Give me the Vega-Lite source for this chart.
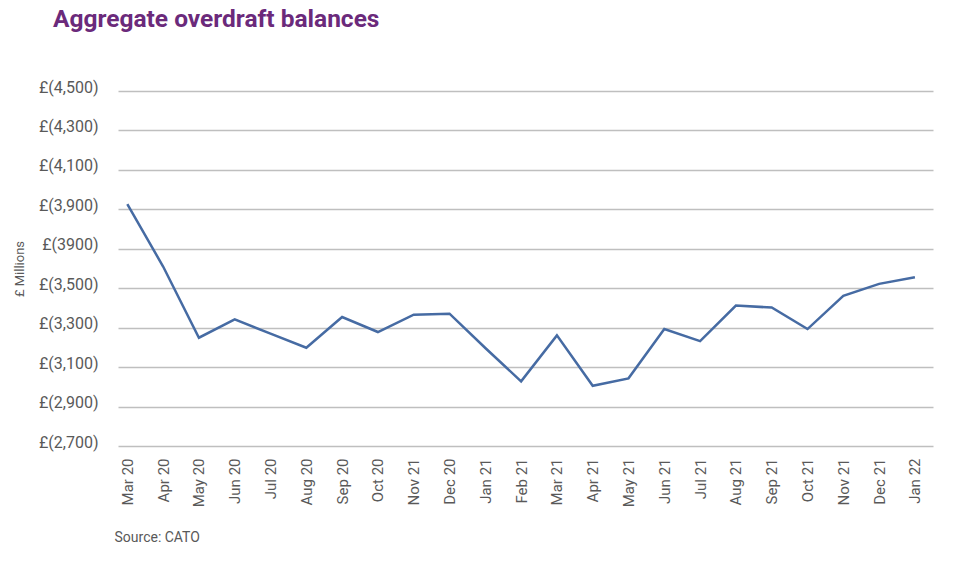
{
  "$schema": "https://vega.github.io/schema/vega-lite/v6.json",
  "autosize": "none",
  "width": 815,
  "height": 355,
  "padding": {"left": 118, "top": 91, "right": 25, "bottom": 132},
  "background": "white",
  "title": {
    "text": "Aggregate overdraft balances",
    "anchor": "start",
    "frame": "group",
    "dx": -65,
    "offset": 47,
    "font": "Roboto",
    "fontSize": 24.5,
    "fontWeight": "bold",
    "color": "#6B2A7B"
  },
  "data": {
    "values": [
      {"month": "Mar 20", "balance": 3926},
      {"month": "Apr 20", "balance": 3610},
      {"month": "May 20", "balance": 3249},
      {"month": "Jun 20", "balance": 3342},
      {"month": "Jul 20", "balance": 3270},
      {"month": "Aug 20", "balance": 3198},
      {"month": "Sep 20", "balance": 3354},
      {"month": "Oct 20", "balance": 3278},
      {"month": "Nov 20", "balance": 3366},
      {"month": "Dec 20", "balance": 3371},
      {"month": "Jan 21", "balance": 3197},
      {"month": "Feb 21", "balance": 3028},
      {"month": "Mar 21", "balance": 3261},
      {"month": "Apr 21", "balance": 3005},
      {"month": "May 21", "balance": 3043},
      {"month": "Jun 21", "balance": 3293},
      {"month": "Jul 21", "balance": 3232},
      {"month": "Aug 21", "balance": 3412},
      {"month": "Sep 21", "balance": 3402},
      {"month": "Oct 21", "balance": 3293},
      {"month": "Nov 21", "balance": 3461},
      {"month": "Dec 21", "balance": 3522},
      {"month": "Jan 22", "balance": 3556}
    ]
  },
  "mark": {"type": "line", "color": "#466BA3", "strokeWidth": 2.5},
  "encoding": {
    "x": {
      "field": "month",
      "type": "ordinal",
      "sort": null,
      "scale": {"type": "point", "padding": 0.383, "align": 0.34},
      "axis": {
        "title": "Source: CATO",
        "titleAnchor": "start",
        "titleAlign": "left",
        "titleX": -4,
        "titleFont": "Roboto",
        "titleFontSize": 14,
        "titleFontWeight": "normal",
        "titleColor": "#595959",
        "titlePadding": 24,
        "labelAngle": -90,
        "labelAlign": "right",
        "labelBaseline": "middle",
        "labelFont": "Roboto",
        "labelFontSize": 15,
        "labelColor": "#595959",
        "labelPadding": 12,
        "labelExpr": "datum.value == 'Nov 20' ? 'Nov 21' : datum.value",
        "domain": false,
        "ticks": false,
        "grid": false
      }
    },
    "y": {
      "field": "balance",
      "type": "quantitative",
      "scale": {"domain": [2700, 4500], "nice": false, "zero": false},
      "axis": {
        "title": "£ Millions",
        "titleFont": "Roboto",
        "titleFontSize": 13,
        "titleFontWeight": "normal",
        "titleColor": "#595959",
        "titlePadding": 12,
        "values": [2700, 2900, 3100, 3300, 3500, 3700, 3900, 4100, 4300, 4500],
        "labelExpr": "datum.value == 3700 ? '£(3900)' : '£(' + format(datum.value, ',') + ')'",
        "labelFont": "Roboto",
        "labelFontSize": 16,
        "labelColor": "#595959",
        "labelPadding": 20,
        "labelOffset": -4,
        "labelFlush": false,
        "domain": false,
        "ticks": false,
        "grid": true,
        "gridColor": "#BFBFBF",
        "gridWidth": 1.5
      }
    }
  },
  "config": {"view": {"stroke": null}}
}
